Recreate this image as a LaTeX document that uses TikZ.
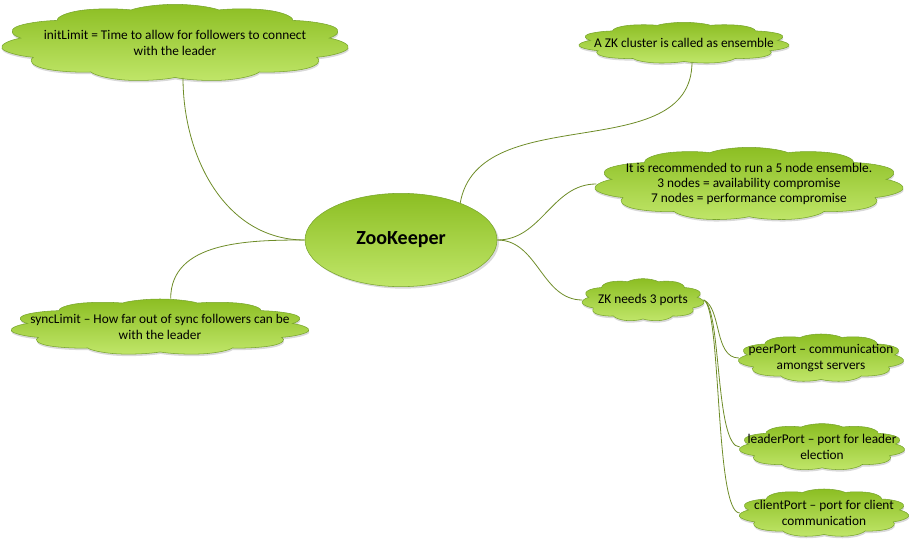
\documentclass[tikz,border=0pt]{standalone}
\usepackage{fontspec}
\setmainfont{Carlito}
\usetikzlibrary{shapes.symbols,shapes.geometric,shadows,positioning}
\definecolor{leafTop}{RGB}{140,190,35}
\definecolor{leafBottom}{RGB}{192,230,105}
\definecolor{leafEdge}{RGB}{120,165,45}
\definecolor{linkGreen}{RGB}{110,140,40}

\begin{document}
\begin{tikzpicture}[x=0.75pt, y=-0.75pt,
  puff/.style={cloud, cloud puffs=11, cloud puff arc=120, aspect=1,
    transform shape, draw=leafEdge, top color=leafTop, bottom color=leafBottom,
    inner sep=0pt,
    drop shadow={shadow xshift=0.4pt, shadow yshift=-1.5pt, opacity=0.3}},
  note/.style={font=\fontsize{10}{11.5}\selectfont, align=center, text=black},
  link/.style={draw=linkGreen, line width=0.6pt}
]

\useasboundingbox (0,0) rectangle (912,541);

\node[ellipse, draw=leafEdge, top color=leafTop, bottom color=leafBottom,
  minimum width=144pt, minimum height=70pt,
  drop shadow={shadow xshift=1.5pt, shadow yshift=-1.5pt, opacity=0.3},
  font=\fontsize{15}{18}\selectfont\bfseries] (zk) at (401,240) {ZooKeeper};

% left side
\node[puff, minimum size=58pt, xscale=4.52] (init) at (175,43) {};
\node[note] (initText) at (init) {initLimit = Time to allow for followers to connect\\with the leader};
\node[puff, minimum size=42pt, xscale=5.36] (sync) at (160,327) {};
\node[note] (syncText) at (sync) {syncLimit -- How far out of sync followers can be\\with the leader};

% right side
\node[puff, minimum size=31pt, xscale=5.13] (cluster) at (684,43) {};
\node[note] (clusterText) at (cluster) {A ZK cluster is called as ensemble};
\node[puff, minimum size=55pt, xscale=4.24] (advice) at (749,184) {};
\node[note] (adviceText) at (advice) {It is recommended to run a 5 node ensemble.\\3 nodes = availability compromise\\7 nodes = performance compromise};
\node[puff, minimum size=32pt, xscale=2.88] (ports) at (643,300) {};
\node[note] (portsText) at (ports) {ZK needs 3 ports};

% ports
\node[puff, minimum size=36pt, xscale=3.47] (peer) at (821,358) {};
\node[note] (peerText) at (peer) {peerPort -- communication\\amongst servers};
\node[puff, minimum size=35pt, xscale=3.57] (leader) at (822,447) {};
\node[note] (leaderText) at (leader) {leaderPort -- port for leader\\election};
\node[puff, minimum size=36pt, xscale=3.56] (client) at (824,513) {};
\node[note] (clientText) at (client) {clientPort -- port for client\\communication};

\draw[link] (zk.west) to[out=180,in=-90] ([xshift=6]init.south);
\draw[link] (zk.west) to[out=180,in=90] ([xshift=8]sync.north);
\draw[link] (zk.32) to[out=80,in=-90] ([xshift=6]cluster.south);
\draw[link] (zk.east) to[out=0,in=180] (advice.west);
\draw[link] (zk.east) to[out=0,in=180] (ports.west);

\draw[link] (ports.east) .. controls +(18,8) and +(-25,0) .. (peer.west);
\draw[link] (ports.east) .. controls +(18,8) and +(-25,0) .. (leader.west);
\draw[link] (ports.east) .. controls +(18,8) and +(-25,0) .. (client.west);

\end{tikzpicture}
\end{document}
